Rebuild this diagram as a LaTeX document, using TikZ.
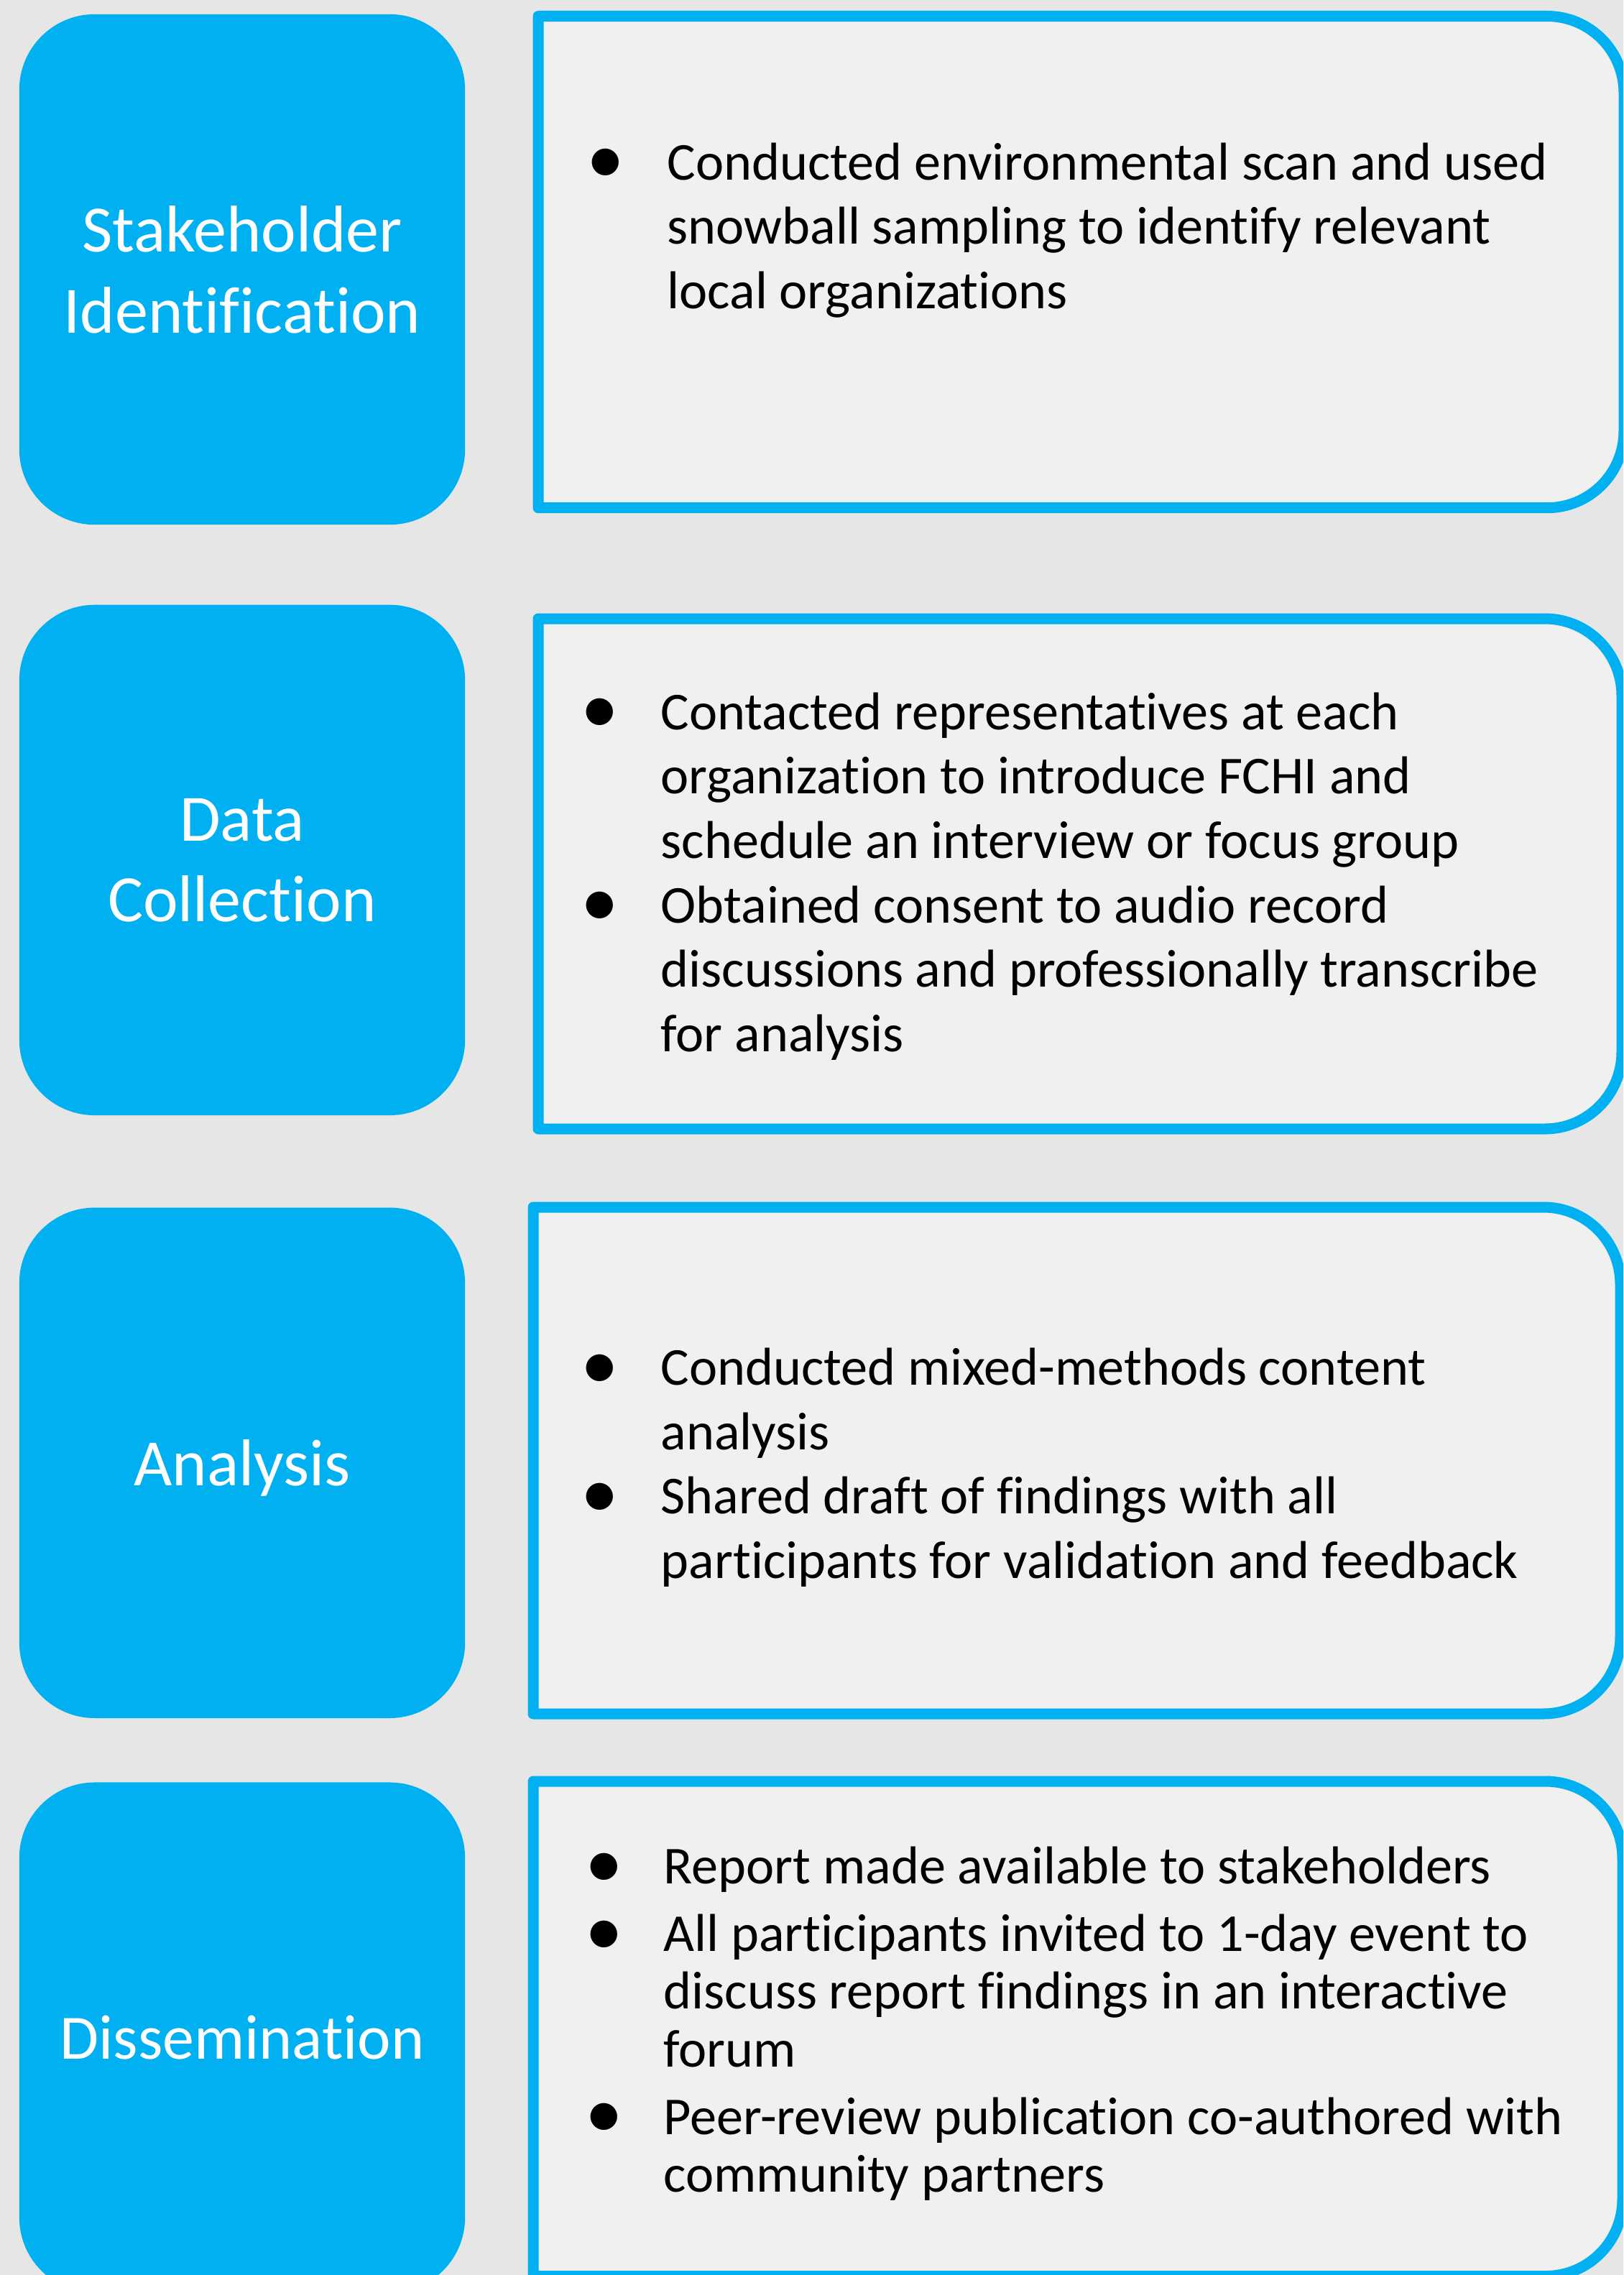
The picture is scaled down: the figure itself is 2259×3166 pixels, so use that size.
\documentclass[tikz,border=0pt]{standalone}
\usepackage{fontspec}
\setmainfont{Carlito}[Ligatures={NoCommon,NoRare}]
\usepackage{tikz}
\usetikzlibrary{positioning}
\definecolor{StageBlue}{HTML}{00B0F0}
\definecolor{PanelGray}{HTML}{F0F0F0}
\definecolor{PageGray}{HTML}{E6E6E6}
\tikzstyle{stage} = [fill=StageBlue,rounded corners=1.05cm,minimum width=6.2cm,minimum height=7.1cm,inner sep=0pt,text=white,align=center,text depth=0pt,font=\fontsize{26.2pt}{31.9pt}\selectfont]
\tikzstyle{panel} = [draw=StageBlue,fill=PanelGray,line width=0.15cm,line join=round]
\tikzstyle{points} = [anchor=base west,inner sep=0pt,font=\fontsize{21.1pt}{25.5pt}\selectfont]
% bullet mark, centred on a zero-width column
\newcommand{\dotmark}{\makebox[0pt]{\raisebox{-1.6pt}{\fontsize{30pt}{30pt}\selectfont\textbullet}}}
% panel with square left corners and round right corners
\newcommand{\infobox}[4]{\draw[panel] (#1,#2) -- (1500,#2) [rounded corners=1.07cm] -- (#3,#2) -- (#3,#4) -- (1500,#4) [sharp corners] -- (#1,#4) -- cycle;}

\begin{document}
\begin{tikzpicture}[x=0.01cm,y=-0.01cm]
	\clip (0,0) rectangle (2259,3166);
	\fill[PageGray] (0,0) rectangle (2259,3166);
	
	\node[stage] (s1) at (337,375) {Stakeholder\\Identification};
	\node[stage,below=1.1cm of s1] (s2) {Data\\Collection};
	\node[stage,below=1.27cm of s2] (s3) {Analysis};
	\node[stage,below=0.88cm of s3,font=\fontsize{25pt}{30pt}\selectfont] (s4) {Dissemination};
	
	\infobox{749}{22.5}{2260}{706.7}
	\infobox{749}{861}{2257}{1571}
	\infobox{742}{1680}{2255}{2385}
	\infobox{742}{2479}{2258}{3167.5}
	
	\node[points] (p1) at (842,250) {\begin{tabular}[t]{@{}c@{\hspace{0.86cm}}l@{}}
			\dotmark & Conducted environmental scan and used\\
			& snowball sampling to identify relevant\\
			& local organizations
	\end{tabular}};
	
	\node[points] (p2) at (834,1015) {\begin{tabular}[t]{@{}c@{\hspace{0.85cm}}l@{}}
			\dotmark & Contacted representatives at each\\
			& organization to introduce FCHI and\\
			& schedule an interview or focus group\\
			\dotmark & Obtained consent to audio record\\
			& discussions and professionally transcribe\\
			& for analysis
	\end{tabular}};
	
	\node[points] (p3) at (834,1927.5) {\begin{tabular}[t]{@{}c@{\hspace{0.85cm}}l@{}}
			\dotmark & Conducted mixed-methods content\\
			& analysis\\
			\dotmark & Shared draft of findings with all\\
			& participants for validation and feedback
	\end{tabular}};
	
	\node[points,font=\fontsize{21.1pt}{22.9pt}\selectfont] (p4) at (840,2621.7) {\begin{tabular}[t]{@{}c@{\hspace{0.83cm}}l@{}}
			\dotmark & Report made available to stakeholders\\[3.75pt]
			\dotmark & All participants invited to 1-day event to\\
			& discuss report findings in an interactive\\
			& forum\\[3.75pt]
			\dotmark & Peer-review publication co-authored with\\
			& community partners
	\end{tabular}};
	
\end{tikzpicture}
\end{document}
